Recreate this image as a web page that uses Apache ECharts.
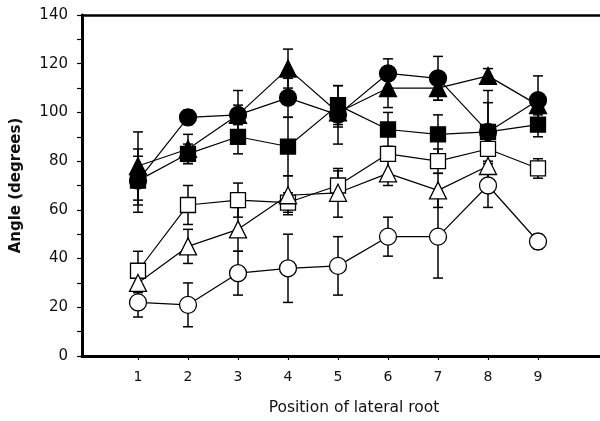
<!DOCTYPE html>
<html>
<head>
<meta charset="utf-8">
<script src="https://cdn.jsdelivr.net/npm/echarts@6/dist/echarts.min.js"></script>
<style>
  html, body { margin: 0; padding: 0; background: #fff; }
  #chart { width: 600px; height: 421px; }
</style>
</head>
<body>
<div id="chart"></div>
<script>
// positions of lateral root
const positions = [1, 2, 3, 4, 5, 6, 7, 8, 9]

// mean angles (degrees) and error bar half-lengths
const filledCircle = [72, 98, 99, 106, 99, 116, 114, 92, 105]
const filledCircleErr = [13, 3, 10, 8, 12, 6, 9, 17, 10]
const filledTriangle = [78, 85, 99, 118, 100, 110, 110, 115, 103]
const filledTriangleErr = [14, 6, 4, 8, 6, 8, 5, 3, 4]
const filledSquare = [72, 83, 90, 86, 103, 93, 91, 92, 95]
const filledSquareErr = [10, 4, 7, 12, 8, 7, 8, 12, 5]
const openSquare = [35, 62, 64, 63, 70, 83, 80, 85, 77]
const openSquareErr = [8, 8, 7, 4, 6, 3, 5, 6, 4]
const openTriangle = [30, 45, 52, 66, 67, 75, 68, 78]
const openTriangleErr = [4, 7, 9, 8, 10, 5, 7, 8]
const openCircle = [22, 21, 34, 36, 37, 49, 49, 70, 47]
const openCircleErr = [6, 9, 9, 14, 12, 8, 17, 9, 3]

const yTicks = [0, 20, 40, 60, 80, 100, 120, 140]

// drawing order: later groups sit on top
const groups = [
  { vals: filledTriangle, err: filledTriangleErr, symbol: 'triangle', size: 17, fill: '#000' },
  { vals: filledCircle, err: filledCircleErr, symbol: 'circle', size: 17, fill: '#000' },
  { vals: filledSquare, err: filledSquareErr, symbol: 'rect', size: 15, fill: '#000' },
  { vals: openSquare, err: openSquareErr, symbol: 'rect', size: 15, fill: '#fff' },
  { vals: openTriangle, err: openTriangleErr, symbol: 'triangle', size: 17, fill: '#fff' },
  { vals: openCircle, err: openCircleErr, symbol: 'circle', size: 17, fill: '#fff' },
]

const series = []
// error bars first, under everything
groups.forEach(g => {
  series.push({
    type: 'custom',
    z: 1,
    silent: true,
    data: g.vals.map((v, i) => [positions[i], v, g.err[i]]),
    renderItem(params, api) {
      const x = api.value(0), y = api.value(1), e = api.value(2)
      const top = api.coord([x, y + e])
      const bot = api.coord([x, y - e])
      const cap = 5
      const style = { stroke: '#000', lineWidth: 1.5 }
      return {
        type: 'group',
        children: [
          { type: 'line', shape: { x1: top[0], y1: top[1], x2: bot[0], y2: bot[1] }, style },
          { type: 'line', shape: { x1: top[0] - cap, y1: top[1], x2: top[0] + cap, y2: top[1] }, style },
          { type: 'line', shape: { x1: bot[0] - cap, y1: bot[1], x2: bot[0] + cap, y2: bot[1] }, style },
        ]
      }
    }
  })
})
// lines with markers
groups.forEach(g => {
  series.push({
    type: 'line',
    z: 3,
    data: g.vals.map((v, i) => [positions[i], v]),
    symbol: g.symbol,
    symbolSize: g.size,
    showAllSymbol: true,
    lineStyle: { color: '#000', width: 1.2 },
    itemStyle: { color: g.fill, borderColor: '#000', borderWidth: 1.3 }
  })
})

const chart = echarts.init(document.getElementById('chart'))
chart.setOption({
  animation: false,
  textStyle: { fontFamily: 'DejaVu Sans, sans-serif' },
  grid: { left: 82, right: 0, top: 15, bottom: 63 },
  xAxis: [
    {
      type: 'value',
      min: -0.12,
      max: 10.24,
      name: 'Position of lateral root',
      nameLocation: 'middle',
      nameGap: 44,
      nameTextStyle: { fontSize: 15.5, color: '#111', padding: [0, 0, 0, 26] },
      axisLine: { show: true, onZero: false, lineStyle: { color: '#000', width: 3 } },
      axisTick: { show: true, customValues: positions, length: 4, lineStyle: { color: '#000', width: 1.2 } },
      axisLabel: { customValues: positions, fontSize: 14, color: '#111', margin: 14 },
      splitLine: { show: false }
    },
    {
      type: 'value',
      position: 'top',
      min: -0.12,
      max: 10.24,
      axisLine: { show: true, onZero: false, lineStyle: { color: '#000', width: 2.5 } },
      axisTick: { show: false },
      axisLabel: { show: false },
      splitLine: { show: false }
    }
  ],
  yAxis: {
    type: 'value',
    min: 0,
    max: 140,
    interval: 20,
    name: 'Angle (degrees)',
    nameLocation: 'middle',
    nameGap: 58,
    nameTextStyle: { fontSize: 15, fontWeight: 'bold', color: '#111' },
    axisLine: { show: true, onZero: false, lineStyle: { color: '#000', width: 3 } },
    axisTick: { show: true, length: 5, lineStyle: { color: '#000', width: 1.2 } },
    minorTick: { show: true, splitNumber: 2, length: 5, lineStyle: { color: '#000', width: 1.2 } },
    axisLabel: {
      fontSize: 15, color: '#111', margin: 14,
      formatter: v => (yTicks.includes(v) ? String(v) : '')
    },
    splitLine: { show: false }
  },
  series
})
</script>
</body>
</html>
